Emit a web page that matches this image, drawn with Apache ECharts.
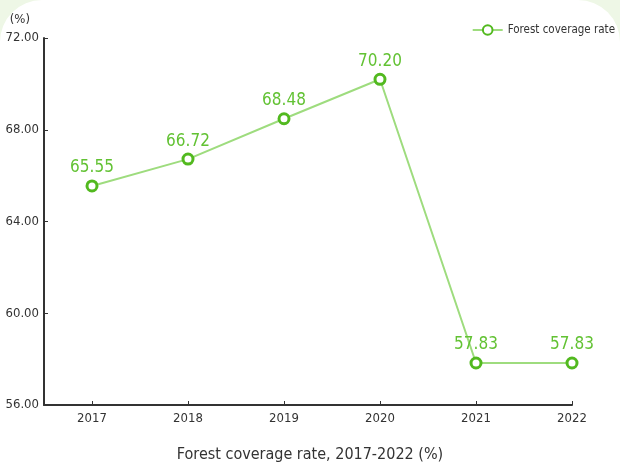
<!DOCTYPE html>
<html>
<head>
<meta charset="utf-8">
<script src="https://cdn.jsdelivr.net/npm/echarts@6/dist/echarts.min.js"></script>
<style>
  html, body { margin: 0; padding: 0; background: #eef7e6; }
  #chart {
    width: 620px; height: 466px; background: #ffffff;
    border-top-left-radius: 42px; border-top-right-radius: 42px;
  }
</style>
</head>
<body>
<div id="chart"></div>
<script>
// Forest coverage rate by year (%)
const years = [2017, 2018, 2019, 2020, 2021, 2022];
const coverage = [65.55, 66.72, 68.48, 70.20, 57.83, 57.83];
const yTicks = [56, 60, 64, 68, 72];

const FONT = '"Liberation Sans Narrow", "DejaVu Sans Condensed", Roboto, sans-serif';

const chart = echarts.init(document.getElementById('chart'), null, { renderer: 'canvas' });
chart.setOption({
  backgroundColor: 'transparent',
  textStyle: { fontFamily: FONT },
  title: {
    text: 'Forest coverage rate, 2017-2022 (%)',
    left: 'center',
    bottom: -2,
    textStyle: { fontFamily: FONT, fontSize: 16, fontWeight: 'normal', color: '#333' }
  },
  legend: {
    right: 0,
    top: 19,
    itemWidth: 30,
    itemHeight: 12,
    itemGap: 4,
    textStyle: { fontFamily: FONT, fontSize: 11.5, color: '#333' },
    data: ['Forest coverage rate']
  },
  grid: { left: 44, right: 48, top: 38, bottom: 61, containLabel: false },
  xAxis: {
    type: 'value',
    min: years[0] - 0.5,
    max: years[years.length - 1],
    interval: 0.5,
    splitLine: { show: false },
    axisLine: { lineStyle: { color: '#333', width: 2 } },
    axisTick: { inside: true, length: 4, customValues: years, lineStyle: { color: '#333' } },
    axisLabel: {
      customValues: years,
      color: '#333', fontSize: 13, fontFamily: FONT, margin: 7,
      formatter: v => String(v)
    }
  },
  yAxis: {
    type: 'value',
    min: yTicks[0],
    max: yTicks[yTicks.length - 1],
    interval: 4,
    name: '(%)',
    nameLocation: 'end',
    nameGap: 12,
    nameTextStyle: { color: '#333', fontSize: 13, fontFamily: FONT, align: 'right', padding: [0, 14, 0, 0] },
    splitLine: { show: false },
    axisLine: { show: true, lineStyle: { color: '#333', width: 2 } },
    axisTick: { show: true, inside: true, length: 4, lineStyle: { color: '#333' } },
    axisLabel: {
      color: '#333', fontSize: 13, fontFamily: FONT, margin: 5,
      formatter: v => v.toFixed(2)
    }
  },
  series: [{
    name: 'Forest coverage rate',
    type: 'line',
    data: years.map((y, i) => [y, coverage[i]]),
    symbol: 'circle',
    symbolSize: 10,
    lineStyle: { color: '#9edc7e', width: 2 },
    itemStyle: { color: '#ffffff', borderColor: '#52b91f', borderWidth: 3 },
    label: {
      show: true,
      position: 'top',
      distance: 3,
      color: '#62c233',
      fontSize: 17,
      fontFamily: FONT,
      formatter: p => p.value[1].toFixed(2)
    }
  }]
});
</script>
</body>
</html>
